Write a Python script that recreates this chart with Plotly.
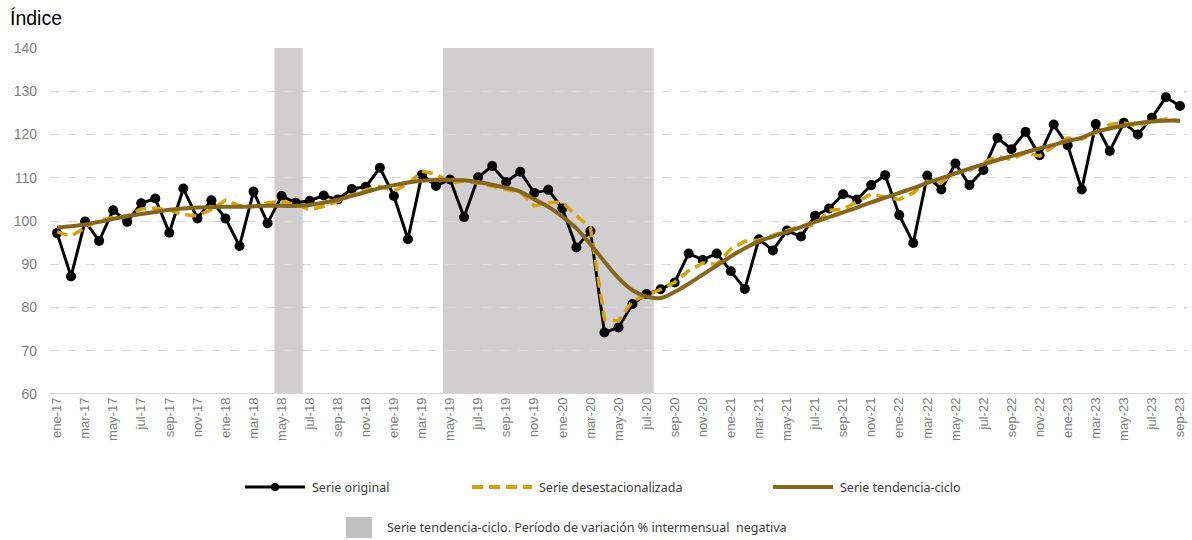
import plotly.graph_objects as go

months = ["ene", "feb", "mar", "abr", "may", "jun", "jul", "ago", "sep", "oct", "nov", "dic"]
labels = [f"{months[i % 12]}-{17 + i // 12}" for i in range(81)]

original = [97.2, 87.2, 99.9, 95.4, 102.5, 99.8, 104.1, 105.2, 97.3, 107.5, 100.6, 104.8,
            100.6, 94.2, 106.8, 99.5, 105.8, 104.2, 104.7, 105.9, 105.0, 107.4, 107.9, 112.3,
            105.8, 95.8, 110.7, 108.1, 109.6, 100.9, 110.1, 112.7, 109.0, 111.4, 106.5, 107.2,
            102.9, 93.9, 97.7, 74.2, 75.4, 80.8, 83.1, 84.2, 85.8, 92.5, 91.0, 92.5,
            88.4, 84.3, 95.8, 93.2, 97.8, 96.4, 101.2, 102.9, 106.2, 105.0, 108.3, 110.6,
            101.4, 94.9, 110.5, 107.3, 113.3, 108.3, 111.8, 119.2, 116.6, 120.6, 115.2, 122.3,
            117.5, 107.3, 122.4, 116.2, 122.7, 120.0, 123.9, 128.6, 126.6]

desestacionalizada = [97.5, 96.5, 98.5, 100.2, 100.8, 101.2, 102.8, 103.0, 102.5, 101.5, 101.2, 102.6,
                      104.8, 103.5, 103.3, 104.2, 104.5, 103.8, 102.6, 103.4, 104.5, 106.0, 107.2, 108.0,
                      107.0, 108.5, 111.5, 110.8, 108.9, 109.2, 108.8, 108.0, 107.3, 106.7, 103.5, 104.2,
                      104.4, 101.2, 98.5, 77.3, 76.9, 81.5, 82.8, 84.2, 85.8, 88.5, 90.3, 90.0,
                      93.5, 95.3, 95.6, 96.8, 97.8, 98.8, 99.0, 102.5, 102.7, 104.5, 106.2, 105.5,
                      105.0, 106.5, 109.2, 108.9, 111.2, 111.7, 113.5, 115.0, 114.2, 115.8, 115.0, 117.3,
                      119.2, 118.9, 120.4, 122.3, 122.7, 121.9, 123.1, 123.6, 123.1]

tendencia = [98.5, 98.8, 99.2, 99.8, 100.5, 101.1, 101.6, 102.1, 102.6, 102.9, 103.1, 103.2,
             103.3, 103.3, 103.4, 103.5, 103.5, 103.5, 103.7, 104.2, 104.9, 105.8, 106.7, 107.6,
             108.3, 108.9, 109.3, 109.5, 109.5, 109.4, 109.0, 108.4, 107.7, 106.8, 105.0, 103.3,
             101.0, 98.3, 94.6, 90.6, 86.8, 84.0, 82.5, 82.2, 83.6, 85.5, 87.6, 89.7,
             91.8, 93.7, 95.3, 96.4, 97.5, 98.6, 99.8, 100.9, 102.0, 103.1, 104.3, 105.4,
             106.5, 107.6, 108.8, 109.9, 111.0, 112.1, 113.1, 114.1, 115.0, 115.9, 116.8, 117.6,
             118.5, 119.3, 120.6, 121.4, 122.1, 122.6, 123.0, 123.2, 123.2]

# periods of negative month-on-month change of the trend-cycle (month index ranges)
neg_periods = [(15.5, 17.5), (27.5, 42.5)]

tick_idx = list(range(0, 81, 2))
tick_txt = [labels[i] for i in tick_idx]
xs = list(range(81))

GOLD = "#D4A20A"
BROWN = "#86661A"
SHADE = "#D0CECF"
DASH = "11px,6px"

fig = go.Figure()
fig.add_trace(go.Scatter(x=xs, y=original, mode="lines+markers", name="Serie original",
                         line=dict(color="#000000", width=3), marker=dict(size=10, color="#000000")))
fig.add_trace(go.Scatter(x=xs, y=desestacionalizada, mode="lines", name="Serie desestacionalizada",
                         line=dict(color=GOLD, width=3.5, dash=DASH)))
fig.add_trace(go.Scatter(x=xs, y=tendencia, mode="lines", name="Serie tendencia-ciclo",
                         line=dict(color=BROWN, width=4, shape="spline")))

shapes = []
for a, b in neg_periods:
    shapes.append(dict(type="rect", xref="x", yref="y", x0=a, x1=b, y0=60, y1=140,
                       fillcolor=SHADE, line=dict(width=0), layer="below"))

# manual legend (pixel -> paper conversion)
L, R, T, B = 50, 1187, 48, 394
W, H = R - L, B - T
def px(x):
    return (x - L) / W
def py(y):
    return (B - y) / H

legend_y = 487
shapes.append(dict(type="line", xref="paper", yref="paper", x0=px(245), x1=px(305),
                   y0=py(legend_y), y1=py(legend_y), line=dict(color="#000000", width=3)))
shapes.append(dict(type="circle", xref="paper", yref="paper", x0=px(271), x1=px(279),
                   y0=py(legend_y + 4), y1=py(legend_y - 4), fillcolor="#000000", line=dict(width=0)))
shapes.append(dict(type="line", xref="paper", yref="paper", x0=px(472), x1=px(532),
                   y0=py(legend_y), y1=py(legend_y), line=dict(color=GOLD, width=4, dash=DASH)))
shapes.append(dict(type="line", xref="paper", yref="paper", x0=px(773), x1=px(833),
                   y0=py(legend_y), y1=py(legend_y), line=dict(color=BROWN, width=4)))
shapes.append(dict(type="rect", xref="paper", yref="paper", x0=px(346), x1=px(372),
                   y0=py(538), y1=py(517), fillcolor="#C0C0C0", line=dict(width=0)))

leg_font = dict(family="Noto Sans, Open Sans, sans-serif", size=12.5, color="#404040")
annotations = [
    dict(text="Serie original", x=px(310), y=py(legend_y), xref="paper", yref="paper",
         xanchor="left", yanchor="middle", showarrow=False, font=leg_font),
    dict(text="Serie desestacionalizada", x=px(537), y=py(legend_y), xref="paper", yref="paper",
         xanchor="left", yanchor="middle", showarrow=False, font=leg_font),
    dict(text="Serie tendencia-ciclo", x=px(838), y=py(legend_y), xref="paper", yref="paper",
         xanchor="left", yanchor="middle", showarrow=False, font=leg_font),
    dict(text="Serie tendencia-ciclo. Período de variación % intermensual  negativa", x=px(385), y=py(527),
         xref="paper", yref="paper", xanchor="left", yanchor="middle", showarrow=False, font=leg_font),
    dict(text="Índice", x=px(8), y=py(18), xref="paper", yref="paper", xanchor="left", yanchor="middle",
         showarrow=False, font=dict(family="Liberation Sans, Arial, sans-serif", size=19.5, color="#000000")),
]

fig.update_layout(
    width=1192, height=540,
    margin=dict(l=L, r=1192 - R, t=T, b=540 - B),
    plot_bgcolor="white", paper_bgcolor="white",
    showlegend=False,
    shapes=shapes, annotations=annotations,
    xaxis=dict(range=[-0.5, 80.5], tickmode="array", tickvals=tick_idx, ticktext=tick_txt,
               tickangle=-90, showgrid=False, zeroline=False, showline=False, ticks="",
               tickfont=dict(family="Liberation Sans, Arial, sans-serif", size=13, color="#7F7F7F")),
    yaxis=dict(range=[60, 140], tickmode="array", tickvals=[60, 70, 80, 90, 100, 110, 120, 130, 140],
               showgrid=True, gridcolor="#D9D9D9", griddash="dash", gridwidth=1,
               zeroline=False, showline=False, ticks="", ticklabelstandoff=12,
               tickfont=dict(family="Liberation Sans, Arial, sans-serif", size=14, color="#7F7F7F")),
)
# solid baseline at 60
fig.add_shape(type="line", xref="paper", yref="y", x0=0, x1=1, y0=60, y1=60,
              line=dict(color="#D9D9D9", width=2))

fig.write_html("out.html", config={"displayModeBar": False},
               post_script="document.body.style.margin='0px';document.body.style.overflow='hidden';")
